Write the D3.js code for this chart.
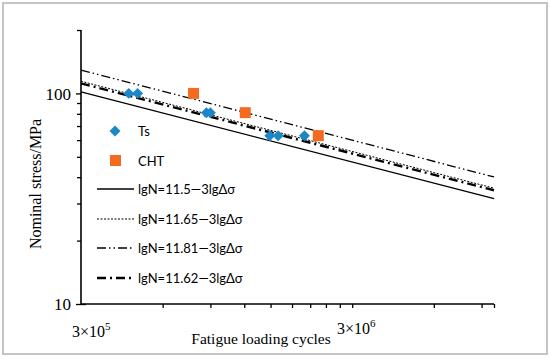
<!DOCTYPE html>
<html>
<head>
<meta charset="utf-8">
<script src="https://cdn.jsdelivr.net/npm/d3@7"></script>
<style>
  body { margin: 0; background: #fff; }
  .serif { font-family: "Liberation Serif", "Times New Roman", serif; }
  .sans { font-family: Lato, "Open Sans", sans-serif; }
</style>
</head>
<body>
<div class="static-image"></div>
<script>
// test data
var tsCycles = [4.5e5, 4.85e5, 8.7e5, 9.0e5, 1.49e6, 1.6e6, 2.0e6];
var tsStress = [100, 100, 81, 81, 63, 63, 63];
var chtCycles = [7.8e5, 1.21e6, 2.25e6];
var chtStress = [100, 81, 63];

// S-N curves lgN = C - 3lgS
var curveC = [11.5, 11.65, 11.81, 11.62];
var curveNames = ["lgN=11.5—3lgΔσ", "lgN=11.65—3lgΔσ", "lgN=11.81—3lgΔσ", "lgN=11.62—3lgΔσ"];
var curveDash = [null, "2,1.5", "9,3,1.5,3,1.5,3", "9,4,2,4"];
var curveWidth = [1.3, 1, 1.3, 2.4];

var xDomain = [3e5, 1e7];
var yDomain = [10, 200];
var xMinor = [6e5, 9e5, 1.2e6, 1.5e6, 1.8e6, 2.1e6, 2.4e6, 2.7e6, 3e6, 6e6, 9e6, 1e7];
var yMinor = [20, 30, 40, 50, 60, 70, 80, 90, 200];
var yMajor = [10, 100];

var width = 550, height = 359;
var plot = { left: 81, right: 494, top: 30, bottom: 304 };

var svg = d3.select(".static-image").append("svg")
    .attr("width", width).attr("height", height);

svg.append("rect")
    .attr("x", 3).attr("y", 3).attr("width", 544).attr("height", 351)
    .attr("fill", "#fff").attr("stroke", "#c4c4c4").attr("stroke-width", 2);

var x = d3.scaleLog().domain(xDomain).range([plot.left, plot.right]);
var y = d3.scaleLog().domain(yDomain).range([plot.bottom, plot.top]);

// S-N lines
var line = d3.line().x(function (d) { return x(d[0]); }).y(function (d) { return y(d[1]); });
function curvePts(c) {
    return xDomain.map(function (n) { return [n, Math.pow(10, (c - Math.log10(n)) / 3)]; });
}
svg.selectAll("path.curve").data(curveC).enter().append("path")
    .attr("class", "curve")
    .attr("d", function (c) { return line(curvePts(c)); })
    .attr("fill", "none").attr("stroke", "#000")
    .attr("stroke-width", function (d, i) { return curveWidth[i]; })
    .attr("stroke-dasharray", function (d, i) { return curveDash[i]; });

// axes
var yAxis = d3.axisLeft(y).tickValues(yMajor).tickSize(5).tickFormat(d3.format("d"));
var gy = svg.append("g").attr("transform", "translate(" + plot.left + ",0)").call(yAxis);
gy.select(".domain").attr("stroke-width", 1.6).attr("d", "M0," + plot.top + "V" + plot.bottom);
gy.selectAll(".tick line").attr("stroke-width", 1.3);
gy.selectAll(".tick text").attr("class", "serif").attr("font-size", 17).attr("x", -10).attr("dy", "0.35em");
gy.selectAll(".tick").filter(function (d) { return d === 10; }).select("line").attr("x2", 5).attr("x1", -5);

var gyMinor = svg.append("g").attr("transform", "translate(" + plot.left + ",0)")
    .call(d3.axisLeft(y).tickValues(yMinor).tickSize(4).tickFormat(""));
gyMinor.select(".domain").remove();
gyMinor.selectAll(".tick line").attr("stroke-width", 1.3);

var gx = svg.append("g").attr("transform", "translate(0," + plot.bottom + ")")
    .call(d3.axisBottom(x).tickValues(xMinor).tickSize(4).tickFormat(""));
gx.select(".domain").attr("stroke-width", 1.6).attr("d", "M" + plot.left + ",0H" + plot.right);
gx.selectAll(".tick line").attr("stroke-width", 1.3);

// markers
var blue = "#1b87c7", orange = "#f26b21";
var diamond = d3.symbol().type(d3.symbolSquare).size(60);
svg.selectAll("path.ts").data(tsCycles).enter().append("path")
    .attr("class", "ts")
    .attr("d", diamond)
    .attr("transform", function (d, i) { return "translate(" + x(d) + "," + y(tsStress[i]) + ") rotate(45)"; })
    .attr("fill", blue);
svg.selectAll("rect.cht").data(chtCycles).enter().append("rect")
    .attr("class", "cht")
    .attr("x", function (d) { return x(d) - 5.5; })
    .attr("y", function (d, i) { return y(chtStress[i]) - 5.5; })
    .attr("width", 11).attr("height", 11)
    .attr("fill", orange);

// legend
var lg = svg.append("g").attr("class", "sans").attr("font-size", 13).attr("fill", "#000");
lg.append("path").attr("d", diamond).attr("transform", "translate(115,131) rotate(45)").attr("fill", blue);
lg.append("text").attr("x", 138).attr("y", 136).text("Ts");
lg.append("rect").attr("x", 110).attr("y", 155).attr("width", 11).attr("height", 11).attr("fill", orange);
lg.append("text").attr("x", 138).attr("y", 166).text("CHT");
var legY = [189, 219, 248, 278];
curveNames.forEach(function (name, i) {
    lg.append("line").attr("x1", 97).attr("x2", 134).attr("y1", legY[i]).attr("y2", legY[i])
        .attr("stroke", "#000").attr("stroke-width", curveWidth[i])
        .attr("stroke-dasharray", curveDash[i]);
    lg.append("text").attr("x", 138).attr("y", legY[i] + 5).text(name);
});

// axis titles and labels
var tx = svg.append("g").attr("class", "serif").attr("fill", "#000");
var l5 = tx.append("text").attr("x", 72).attr("y", 337).attr("font-size", 16).text("3×10");
l5.append("tspan").attr("font-size", 11).attr("dy", -7).text("5");
var l6 = tx.append("text").attr("x", 337).attr("y", 334).attr("font-size", 16).text("3×10");
l6.append("tspan").attr("font-size", 11).attr("dy", -7).text("6");
tx.append("text").attr("x", 261).attr("y", 344).attr("text-anchor", "middle").attr("font-size", 15.5)
    .text("Fatigue loading cycles");
tx.append("text").attr("transform", "translate(41,184) rotate(-90)").attr("text-anchor", "middle")
    .attr("font-size", 16).text("Nominal stress/MPa");
</script>
</body>
</html>
